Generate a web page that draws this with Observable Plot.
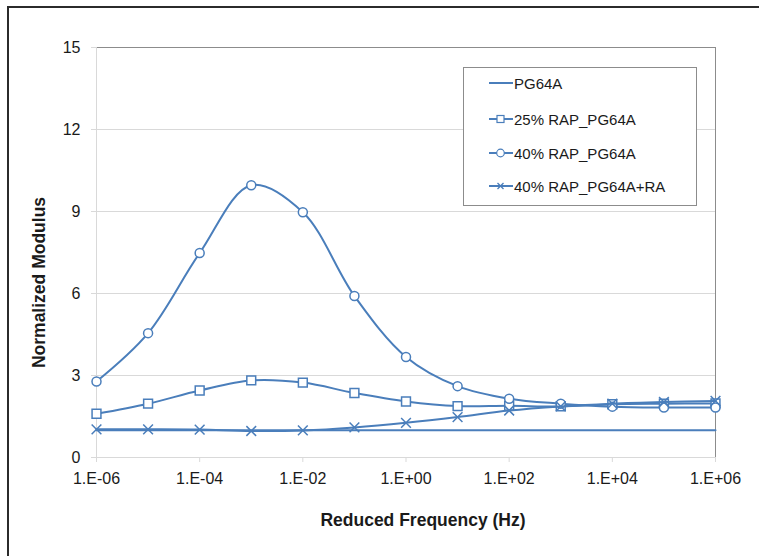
<!DOCTYPE html>
<html>
<head>
<meta charset="utf-8">
<script src="https://cdn.jsdelivr.net/npm/d3@7"></script>
<script src="https://cdn.jsdelivr.net/npm/@observablehq/plot@0.6"></script>
<style>
  body { margin: 0; background: #fff; }
  #wrap { position: relative; width: 759px; height: 556px; overflow: hidden; background: #fff; }
  #frame { position: absolute; left: 7px; top: 6px; width: 800px; height: 600px;
           border-left: 2px solid #2b2b2b; border-top: 2px solid #2b2b2b; pointer-events: none; }
  #legend { position: absolute; left: 463px; top: 67px; width: 232px; height: 137px;
            border: 1px solid #8c8c8c; background: #fff;
            font: 15px Arial, "Liberation Sans", sans-serif; color: #1a1a1a; }
  .row { position: absolute; left: 25px; height: 20px; display: flex; align-items: center; white-space: nowrap; }
  .row svg { display: block; margin-right: 1px; }
</style>
</head>
<body>
<div id="wrap">
  <div id="chart"></div>
  <div id="legend"></div>
  <div id="frame"></div>
</div>
<script>
// ---- data ----
const frequency = [1e-6, 1e-5, 1e-4, 1e-3, 1e-2, 1e-1, 1e0, 1e1, 1e2, 1e3, 1e4, 1e5, 1e6];
const seriesNames = ["PG64A", "25% RAP_PG64A", "40% RAP_PG64A", "40% RAP_PG64A+RA"];
const pg64a   = [1.00, 1.00, 1.00, 1.00, 1.00, 1.00, 1.00, 1.00, 1.00, 1.00, 1.00, 1.00, 1.00];
const rap25   = [1.60, 1.97, 2.45, 2.82, 2.74, 2.36, 2.05, 1.88, 1.89, 1.87, 1.95, 1.97, 1.98];
const rap40   = [2.78, 4.55, 7.48, 9.96, 8.97, 5.91, 3.68, 2.61, 2.15, 1.97, 1.86, 1.83, 1.83];
const rap40ra = [1.03, 1.03, 1.02, 0.97, 0.99, 1.10, 1.27, 1.48, 1.72, 1.87, 1.97, 2.03, 2.07];
const xTicks = [1e-6, 1e-4, 1e-2, 1e0, 1e2, 1e4, 1e6];
const xTickLabels = ["1.E-06", "1.E-04", "1.E-02", "1.E+00", "1.E+02", "1.E+04", "1.E+06"];
const yTicks = [0, 3, 6, 9, 12, 15];
const yTickLabels = ["0", "3", "6", "9", "12", "15"];
const xTitle = "Reduced Frequency (Hz)";
const yTitle = "Normalized Modulus";

// ---- build ----
const blue = "#4a7ebb";
const font = 'Arial, "Liberation Sans", sans-serif';
const toRows = vals => frequency.map((f, i) => ({f, v: vals[i]}));
const dPG = toRows(pg64a), d25 = toRows(rap25), d40 = toRows(rap40), dRA = toRows(rap40ra);
const xLabel = d => xTickLabels[xTicks.findIndex(t => Math.abs(Math.log10(t) - Math.log10(d)) < 1e-9)];
const yLabel = d => yTickLabels[yTicks.indexOf(d)];
const curve = "catmull-rom";

const chart = Plot.plot({
  width: 759, height: 556,
  marginLeft: 96, marginRight: 44, marginTop: 47, marginBottom: 99,
  x: {type: "log", domain: [1e-6, 1e6]},
  y: {domain: [0, 15]},
  style: {fontFamily: font, color: "#1a1a1a", background: "transparent", overflow: "visible"},
  marks: [
    Plot.ruleY(yTicks.filter(t => t > 0 && t < 15), {stroke: "#d9d9d9", strokeWidth: 1}),
    Plot.ruleY([15], {stroke: "#8c8c8c", strokeWidth: 1}),
    Plot.ruleX([1e6], {stroke: "#8c8c8c", strokeWidth: 1}),
    Plot.ruleY([0], {stroke: "#d9d9d9", strokeWidth: 1}),
    Plot.ruleX([1e-6], {stroke: "#d9d9d9", strokeWidth: 1}),
    Plot.axisX({ticks: xTicks, tickFormat: xLabel, tickSize: 5, tickPadding: 10, stroke: "#d9d9d9", strokeOpacity: 1, label: null, fontSize: 16, fill: "#1a1a1a"}),
    Plot.axisY({ticks: yTicks, tickFormat: yLabel, tickSize: 5, tickPadding: 11, stroke: "#d9d9d9", strokeOpacity: 1, label: null, fontSize: 16, fill: "#1a1a1a"}),
    Plot.line(dPG, {x: "f", y: "v", stroke: blue, strokeWidth: 2}),
    Plot.line(d25, {x: "f", y: "v", stroke: blue, strokeWidth: 2, curve}),
    Plot.dot(d25, {x: "f", y: "v", symbol: "square", r: 5, fill: "white", stroke: blue, strokeWidth: 1.5}),
    Plot.line(d40, {x: "f", y: "v", stroke: blue, strokeWidth: 2, curve}),
    Plot.dot(d40, {x: "f", y: "v", symbol: "circle", r: 4.5, fill: "white", stroke: blue, strokeWidth: 1.5}),
    Plot.line(dRA, {x: "f", y: "v", stroke: blue, strokeWidth: 2, curve}),
    Plot.dot(dRA, {x: "f", y: "v", symbol: "times", r: 4.5, stroke: blue, strokeWidth: 1.5}),
    Plot.text([xTitle], {frameAnchor: "bottom", dx: 17, dy: 68, fontSize: 17.5, fontWeight: "bold", fill: "#1a1a1a"}),
    Plot.text([yTitle], {frameAnchor: "left", textAnchor: "middle", rotate: -90, dx: -57, dy: 30, fontSize: 17.5, fontWeight: "bold", fill: "#1a1a1a"})
  ]
});
document.getElementById("chart").appendChild(chart);

// ---- legend ----
const legend = document.getElementById("legend");
const rowTops = [5.3, 41, 75, 108.3];
const markers = [
  "",
  `<rect x="8" y="6.5" width="7" height="7" fill="#fff" stroke="${blue}" stroke-width="1.2"/>`,
  `<circle cx="11.5" cy="10" r="3.8" fill="#fff" stroke="${blue}" stroke-width="1.2"/>`,
  `<path d="M8.5,7 L14.5,13 M8.5,13 L14.5,7" stroke="${blue}" stroke-width="1.3"/>`
];
seriesNames.forEach((name, i) => {
  const row = document.createElement("div");
  row.className = "row";
  row.style.top = rowTops[i] + "px";
  row.innerHTML = `<svg width="24" height="20"><line x1="0" y1="10" x2="24" y2="10" stroke="${blue}" stroke-width="2"/>${markers[i]}</svg><span></span>`;
  row.querySelector("span").textContent = name;
  legend.appendChild(row);
});
</script>
</body>
</html>
